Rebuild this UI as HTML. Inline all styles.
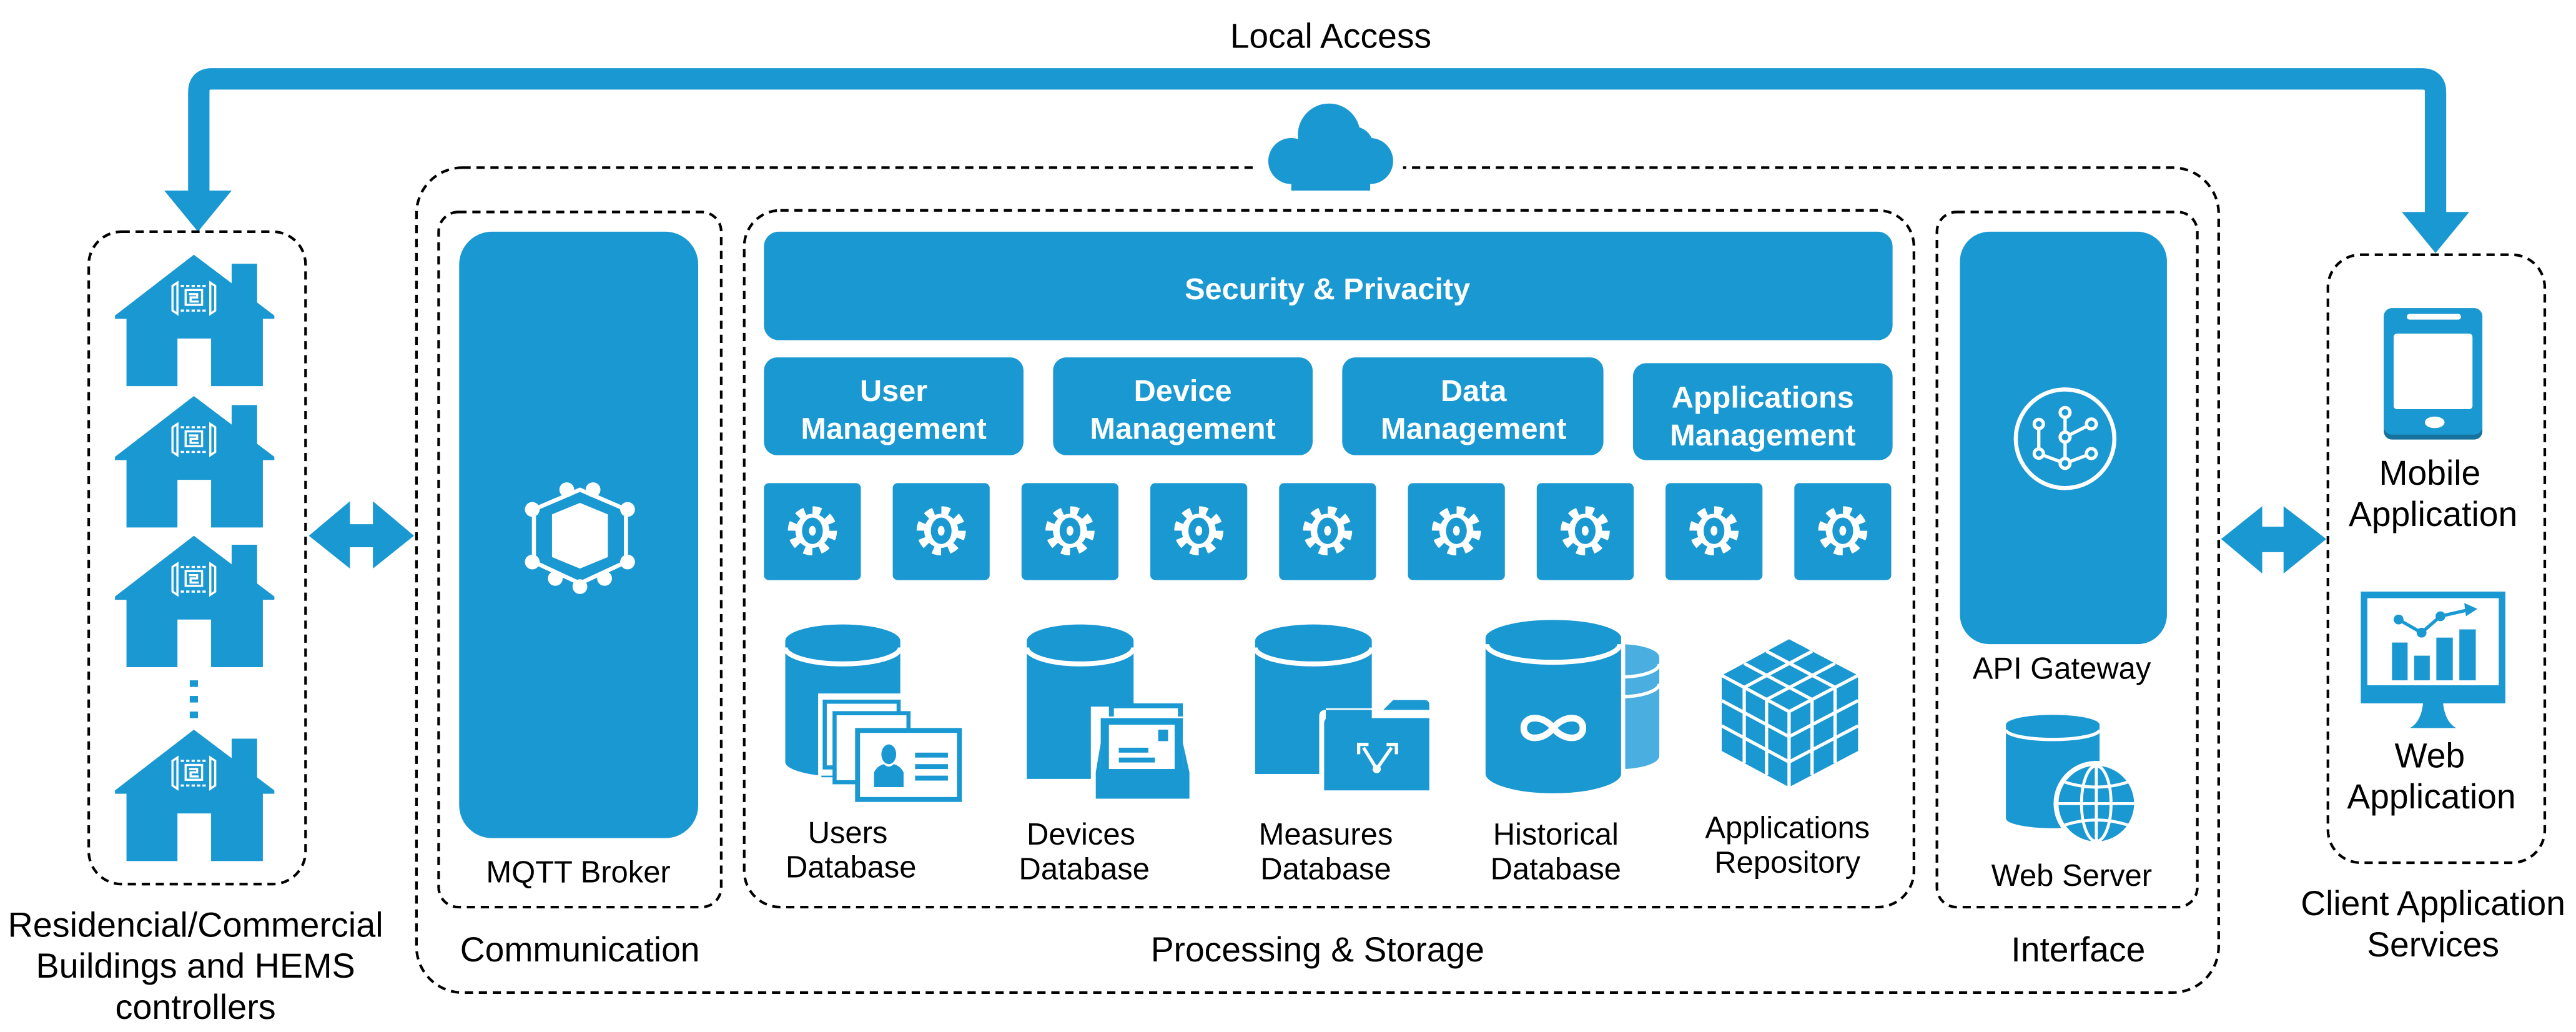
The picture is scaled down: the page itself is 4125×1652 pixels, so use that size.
<!DOCTYPE html>
<html><head><meta charset="utf-8"><style>
html,body{margin:0;padding:0;background:#fff}
svg{display:block}
text{font-family:"Liberation Sans",sans-serif}
</style></head><body>
<svg xmlns="http://www.w3.org/2000/svg" width="4125" height="1652" viewBox="0 0 1568 628" preserveAspectRatio="none">
<defs>
<g id="gear" transform="scale(1.15)">
<circle r="10.5" fill="none" stroke="#fff" stroke-width="5" stroke-dasharray="4.2 4.05"/>
<circle r="9" fill="#fff"/>
<ellipse rx="5.5" ry="7" fill="#1a98d2"/>
<ellipse rx="1.8" ry="2.6" fill="#fff"/>
</g>
<g id="house">
<path d="M0,37 L48,0 L97,37 L97,39 L90,39 L90,80 L58.5,80 L58.5,51 L38,51 L38,80 L7,80 L7,39 L0,39 Z" fill="#1a98d2"/>
<rect x="71" y="5.5" width="15.5" height="26" fill="#1a98d2"/>
<g fill="none" stroke="#fff" stroke-width="1.3">
<path d="M38,17 L35,19 L35,34 L38,36 Z"/>
<path d="M58,17 L61,19 L61,34 L58,36 Z"/>
<path d="M40,19 H56 M40,34 H56" stroke-dasharray="2 1.3"/>
<rect x="43" y="21.5" width="10" height="9"/>
<path d="M45,24 H50 V26 H46 V28.5 H51"/>
</g>
</g>
</defs>

<text x="810" y="29" font-size="21" text-anchor="middle" fill="#000">Local Access</text>
<path d="M121,118 V56 Q121,48 129,48 H1474 Q1482.5,48 1482.5,56 V131" fill="none" stroke="#1a98d2" stroke-width="13"/>
<polygon points="100,116 141,116 120.5,141" fill="#1a98d2"/>
<polygon points="1462,129 1503,129 1482.5,154" fill="#1a98d2"/>

<rect x="54" y="141" width="132" height="397" rx="20" fill="none" stroke="#000" stroke-width="1.6" stroke-dasharray="5 3.5"/>
<use href="#house" x="70" y="155"/>
<use href="#house" x="70" y="241"/>
<use href="#house" x="70" y="326"/>
<use href="#house" x="70" y="444"/>
<rect x="115.5" y="414" width="5" height="4" fill="#1a98d2"/>
<rect x="115.5" y="423.5" width="5" height="4" fill="#1a98d2"/>
<rect x="115.5" y="433" width="5" height="4" fill="#1a98d2"/>
<text font-size="21.2" text-anchor="middle" fill="#000"><tspan x="119" y="570">Residencial/Commercial</tspan><tspan x="119" y="595">Buildings and HEMS</tspan><tspan x="119" y="620">controllers</tspan></text>

<polygon points="188,326 213,305 213,319 227,319 227,305 252,326 227,346 227,333 213,333 213,346" fill="#1a98d2"/>
<polygon points="1352,328 1377,308 1377,320.5 1390,320.5 1390,308 1416,328 1390,349 1390,336 1377,336 1377,349" fill="#1a98d2"/>

<rect x="253.5" y="102" width="1097" height="502" rx="28" fill="none" stroke="#000" stroke-width="1.6" stroke-dasharray="5 3.5"/>
<rect x="764" y="96" width="90" height="12" fill="#fff"/>
<g fill="#1a98d2">
<circle cx="809" cy="82" r="19"/>
<circle cx="786" cy="98" r="14"/>
<circle cx="834" cy="98" r="14"/>
<rect x="786" y="92" width="48" height="24" />
<circle cx="824" cy="89" r="12"/>
</g>

<rect x="267" y="129" width="172" height="423" rx="12" fill="none" stroke="#000" stroke-width="1.6" stroke-dasharray="5 3.5"/>
<rect x="279.5" y="141" width="145.5" height="369" rx="20" fill="#1a98d2"/>
<g>
<polygon points="353,306 370,313 370,339 353,346 336,339 336,313" fill="#fff"/>
<polygon points="353,298 381,310 381,342 353,355 325,342 325,310" fill="none" stroke="#fff" stroke-width="2.5"/>
<g fill="#fff">
<circle cx="345" cy="298" r="4.5"/><circle cx="361" cy="298" r="4.5"/>
<circle cx="324" cy="310" r="4.5"/><circle cx="382" cy="310" r="4.5"/>
<circle cx="324" cy="342" r="4.5"/><circle cx="382" cy="342" r="4.5"/>
<circle cx="338" cy="352" r="4.5"/><circle cx="368" cy="352" r="4.5"/>
<circle cx="353" cy="357" r="4.5"/>
</g>
</g>
<text x="352" y="537" font-size="18.6" text-anchor="middle">MQTT Broker</text>
<text x="353" y="585" font-size="21" text-anchor="middle">Communication</text>

<rect x="453" y="128" width="712" height="424" rx="22" fill="none" stroke="#000" stroke-width="1.6" stroke-dasharray="5 3.5"/>
<rect x="465" y="141" width="687" height="66" rx="9" fill="#1a98d2"/>
<text x="808" y="182" font-size="18.5" font-weight="bold" fill="#fff" text-anchor="middle">Security &amp; Privacity</text>
<g fill="#1a98d2">
<rect x="465" y="217.5" width="158" height="59.5" rx="8"/>
<rect x="641" y="217.5" width="158" height="59.5" rx="8"/>
<rect x="817" y="217.5" width="159" height="59.5" rx="8"/>
<rect x="994" y="221" width="158" height="59" rx="8"/>
</g>
<g font-size="18.5" font-weight="bold" fill="#fff" text-anchor="middle">
<text><tspan x="544" y="244">User</tspan><tspan x="544" y="267">Management</tspan></text>
<text><tspan x="720" y="244">Device</tspan><tspan x="720" y="267">Management</tspan></text>
<text><tspan x="897" y="244">Data</tspan><tspan x="897" y="267">Management</tspan></text>
<text><tspan x="1073" y="248">Applications</tspan><tspan x="1073" y="271">Management</tspan></text>
</g>
<g>
<rect x="465" y="294" width="59" height="59" rx="3" fill="#1a98d2"/><use href="#gear" x="494.5" y="323"/>
<rect x="543.4" y="294" width="59" height="59" rx="3" fill="#1a98d2"/><use href="#gear" x="572.9" y="323"/>
<rect x="621.8" y="294" width="59" height="59" rx="3" fill="#1a98d2"/><use href="#gear" x="651.3" y="323"/>
<rect x="700.2" y="294" width="59" height="59" rx="3" fill="#1a98d2"/><use href="#gear" x="729.7" y="323"/>
<rect x="778.6" y="294" width="59" height="59" rx="3" fill="#1a98d2"/><use href="#gear" x="808.1" y="323"/>
<rect x="857" y="294" width="59" height="59" rx="3" fill="#1a98d2"/><use href="#gear" x="886.5" y="323"/>
<rect x="935.4" y="294" width="59" height="59" rx="3" fill="#1a98d2"/><use href="#gear" x="964.9" y="323"/>
<rect x="1013.8" y="294" width="59" height="59" rx="3" fill="#1a98d2"/><use href="#gear" x="1043.3" y="323"/>
<rect x="1092.2" y="294" width="59" height="59" rx="3" fill="#1a98d2"/><use href="#gear" x="1121.7" y="323"/>
</g>

<path d="M478,390 a35,10 0 0 1 70,0 V473 H500 V472 a35,9 0 0 1 -22,-8 Z" fill="#1a98d2"/>
<path d="M478,394 a35,10 0 0 0 70,0" fill="none" stroke="#fff" stroke-width="3"/>
<rect x="498" y="422" width="52" height="50" fill="#fff"/>
<rect x="502" y="427" width="45" height="40" fill="none" stroke="#1a98d2" stroke-width="2.5"/>
<rect x="508" y="434" width="45" height="42" fill="#fff" stroke="#1a98d2" stroke-width="2.5"/>
<rect x="522" y="444.5" width="62" height="42" fill="#fff" stroke="#1a98d2" stroke-width="3"/>
<path d="M532,479 V470 q2,-4 6,-5 q3,3 6,0 q4,1 6,5 V479 Z" fill="#1a98d2"/>
<ellipse cx="541" cy="459" rx="4.5" ry="6" fill="#1a98d2"/>
<rect x="557" y="458" width="20" height="3" fill="#1a98d2"/>
<rect x="557" y="465" width="20" height="3" fill="#1a98d2"/>
<rect x="557" y="472" width="20" height="3" fill="#1a98d2"/>
<text font-size="18.6" text-anchor="middle"><tspan x="516" y="513">Users</tspan><tspan x="518" y="534">Database</tspan></text>

<path d="M625,390 a32.5,10 0 0 1 65,0 V474 H625 Z" fill="#1a98d2"/>
<path d="M625,394 a32.5,10 0 0 0 65,0" fill="none" stroke="#fff" stroke-width="3"/>
<rect x="664" y="430" width="62" height="58" fill="#fff"/>
<rect x="675" y="428" width="45" height="8" fill="#1a98d2"/>
<rect x="678" y="431" width="39" height="6" fill="#fff"/>
<rect x="670" y="437" width="50" height="35" fill="#1a98d2"/>
<rect x="675" y="441" width="40" height="27" fill="#fff"/>
<rect x="705" y="444" width="6" height="7" fill="#1a98d2"/>
<rect x="681" y="455" width="18" height="3" fill="#1a98d2"/>
<rect x="681" y="461" width="22" height="3" fill="#1a98d2"/>
<path d="M667,486 V470 L670,452 V468 H720 V452 L724,470 V486 Z" fill="#1a98d2"/>
<text font-size="18.6" text-anchor="middle"><tspan x="658" y="514">Devices</tspan><tspan x="660" y="535">Database</tspan></text>

<path d="M764,390 a35.5,10 0 0 1 71,0 V471 H764 Z" fill="#1a98d2"/>
<path d="M764,394 a35.5,10 0 0 0 71,0" fill="none" stroke="#fff" stroke-width="3"/>
<path d="M803,436 q0,-4 4,-4 h33 l5,-5 h23 v4 h-61 v50 h-4 Z" fill="#fff"/>
<path d="M806,481 V440 q0,-3 3,-3 H870 V481 Z" fill="#1a98d2"/>
<path d="M842,432 l6,-6 h19 q3,0 3,3 v3 Z" fill="#1a98d2"/>
<g stroke="#fff" stroke-width="2" fill="none">
<path d="M838,468 L830,455 M838,468 L847,455"/>
<path d="M827,459 V453 H833 M850,459 V453 H844"/>
</g>
<circle cx="838" cy="468" r="2.5" fill="#fff"/>
<text font-size="18.6" text-anchor="middle"><tspan x="807" y="514">Measures</tspan><tspan x="807" y="535">Database</tspan></text>

<path d="M962,400 a24,8 0 0 1 48,0 V460 a24,8 0 0 1 -48,0 Z" fill="#4aaee0"/>
<path d="M962,404 a24,8 0 0 0 48,0 M962,416 a24,8 0 0 0 48,0" fill="none" stroke="#fff" stroke-width="2"/>
<path d="M903,388 a42.5,12 0 0 1 85,0 V471 a42.5,13 0 0 1 -85,0 Z" fill="#1a98d2" stroke="#fff" stroke-width="2.5"/>
<path d="M905,392 a40.5,11 0 0 0 81,0" fill="none" stroke="#fff" stroke-width="3"/>
<path d="M945.5,443 c-6,-8 -18,-8 -18,0 s12,8 18,0 s18,-8 18,0 s-12,8 -18,0 Z" fill="none" stroke="#fff" stroke-width="4"/>
<text font-size="18.6" text-anchor="middle"><tspan x="947" y="514">Historical</tspan><tspan x="947" y="535">Database</tspan></text>

<polygon points="1089,389 1131,411 1131,457 1089,479 1048,457 1048,411" fill="#1a98d2"/>
<g stroke="#fff" stroke-width="2" fill="none">
<polyline points="1048,411 1089,433 1131,411"/>
<line x1="1089" y1="433" x2="1089" y2="479"/>
<line x1="1061.7" y1="403.7" x2="1103" y2="425.7"/>
<line x1="1075.3" y1="396.3" x2="1117" y2="418.3"/>
<line x1="1103" y1="396.3" x2="1061.7" y2="418.3"/>
<line x1="1117" y1="403.7" x2="1075.3" y2="425.7"/>
<line x1="1061.7" y1="418.3" x2="1061.7" y2="464.3"/>
<line x1="1075.3" y1="425.7" x2="1075.3" y2="471.7"/>
<line x1="1048" y1="426.3" x2="1089" y2="448.3"/>
<line x1="1048" y1="441.7" x2="1089" y2="463.7"/>
<line x1="1103" y1="425.7" x2="1103" y2="471.7"/>
<line x1="1117" y1="418.3" x2="1117" y2="464.3"/>
<line x1="1089" y1="448.3" x2="1131" y2="426.3"/>
<line x1="1089" y1="463.7" x2="1131" y2="441.7"/>
</g>
<text font-size="18.6" text-anchor="middle"><tspan x="1088" y="510">Applications</tspan><tspan x="1088" y="531">Repository</tspan></text>
<text x="802" y="585" font-size="21" text-anchor="middle">Processing &amp; Storage</text>

<rect x="1179" y="129" width="158.5" height="423" rx="12" fill="none" stroke="#000" stroke-width="1.6" stroke-dasharray="5 3.5"/>
<rect x="1193" y="141" width="126" height="251" rx="18" fill="#1a98d2"/>
<circle cx="1257" cy="267" r="30" fill="none" stroke="#fff" stroke-width="2.5"/>
<g stroke="#fff" stroke-width="2" fill="none">
<path d="M1257,251 V282 M1241,258 V276 L1257,282 L1273,276 M1257,266 L1273,258"/>
</g>
<g fill="#1a98d2" stroke="#fff" stroke-width="2">
<circle cx="1257" cy="251" r="3"/><circle cx="1241" cy="258" r="2.8"/><circle cx="1273" cy="258" r="3"/>
<circle cx="1257" cy="266" r="3"/><circle cx="1241" cy="276" r="2.8"/><circle cx="1273" cy="276" r="3"/><circle cx="1257" cy="282" r="3"/>
</g>
<text x="1255" y="413" font-size="18.6" text-anchor="middle">API Gateway</text>
<path d="M1221,441 a28.5,6 0 0 1 57,0 V498 a28.5,6 0 0 1 -57,0 Z" fill="#1a98d2"/>
<path d="M1221,444 a28.5,6 0 0 0 57,0" fill="none" stroke="#fff" stroke-width="2"/>
<circle cx="1276" cy="489" r="26" fill="#fff"/>
<circle cx="1276" cy="489" r="23" fill="#1a98d2"/>
<g stroke="#fff" stroke-width="1.8" fill="none">
<ellipse cx="1276" cy="489" rx="9" ry="23"/>
<line x1="1276" y1="466" x2="1276" y2="512"/>
<line x1="1253" y1="489" x2="1299" y2="489"/>
<path d="M1257,476 Q1276,482 1295,476 M1257,502 Q1276,496 1295,502"/>
</g>
<text x="1261" y="539" font-size="18.6" text-anchor="middle">Web Server</text>
<text x="1265" y="585" font-size="21" text-anchor="middle">Interface</text>

<rect x="1417" y="155" width="132" height="370" rx="20" fill="none" stroke="#000" stroke-width="1.6" stroke-dasharray="5 3.5"/>
<rect x="1451" y="187.5" width="60" height="80" rx="5" fill="#16719c"/>
<rect x="1451" y="187.5" width="60" height="77" rx="5" fill="#1a98d2"/>
<rect x="1457" y="203" width="48" height="46" rx="2" fill="#fff"/>
<rect x="1465" y="191" width="33" height="3.5" rx="1.7" fill="#fff"/>
<ellipse cx="1482" cy="257" rx="6" ry="3.5" fill="#fff"/>
<text font-size="21" text-anchor="middle"><tspan x="1479" y="295">Mobile</tspan><tspan x="1481" y="320">Application</tspan></text>
<rect x="1437" y="360" width="88" height="68" fill="#1a98d2"/>
<rect x="1441" y="364" width="80" height="53" fill="#fff"/>
<path d="M1475,427 h12 q1,12 8,16 h-28 q7,-4 8,-16 Z" fill="#1a98d2"/>
<g fill="#1a98d2">
<rect x="1456" y="391" width="9.5" height="23"/>
<rect x="1469.5" y="399" width="9.5" height="15"/>
<rect x="1483" y="388" width="10" height="26"/>
<rect x="1497" y="383" width="10" height="31"/>
</g>
<polyline points="1460,377 1474,385 1485.5,375 1503,371" fill="none" stroke="#1a98d2" stroke-width="2"/>
<polygon points="1500,367 1508,370.5 1501,375" fill="#1a98d2"/>
<circle cx="1460" cy="377" r="3" fill="#1a98d2"/><circle cx="1474" cy="385" r="3" fill="#1a98d2"/><circle cx="1485.5" cy="375" r="3" fill="#1a98d2"/>
<text font-size="21" text-anchor="middle"><tspan x="1479" y="467">Web</tspan><tspan x="1480" y="492">Application</tspan></text>
<text font-size="21" text-anchor="middle"><tspan x="1481" y="557">Client Application</tspan><tspan x="1481" y="582">Services</tspan></text>
</svg>
</body></html>
